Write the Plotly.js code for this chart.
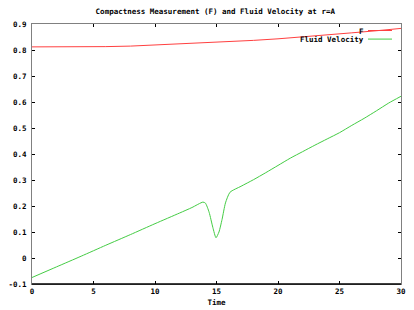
<!DOCTYPE html>
<html>
<head>
<meta charset="utf-8">
<script src="https://cdn.plot.ly/plotly-3.0.1.min.js"></script>
<style>html,body{margin:0;padding:0;background:#fff;}#chart{width:414px;height:310px;}</style>
</head>
<body>
<div id="chart"></div>
<script>
var seriesNames = ["F", "Fluid Velocity"];
var fTime = [0, 2, 4, 6, 8, 10, 12, 14, 16, 18, 20, 22, 24, 26, 28, 30];
var fValues = [0.812, 0.812, 0.812, 0.813, 0.815, 0.819, 0.823, 0.828, 0.832, 0.837, 0.843, 0.850, 0.858, 0.866, 0.874, 0.883];
var vTime = [0, 2, 4, 6, 8, 10, 12, 13, 13.9, 14.1, 14.4, 14.7, 14.96, 15.2, 15.45, 15.73, 16.1, 17, 18, 19, 20, 21, 22, 23, 24, 25, 26, 27, 28, 29, 30];
var vValues = [-0.075, -0.034, 0.007, 0.049, 0.090, 0.132, 0.173, 0.194, 0.215, 0.211, 0.176, 0.118, 0.078, 0.100, 0.148, 0.212, 0.253, 0.276, 0.301, 0.328, 0.356, 0.384, 0.409, 0.434, 0.458, 0.482, 0.510, 0.537, 0.566, 0.596, 0.622];
var xTicks = [0, 5, 10, 15, 20, 25, 30];
var yTicks = [-0.1, 0, 0.1, 0.2, 0.3, 0.4, 0.5, 0.6, 0.7, 0.8, 0.9];
var yTickText = ["-0.1", "0", "0.1", "0.2", "0.3", "0.4", "0.5", "0.6", "0.7", "0.8", "0.9"];

var fnt = {family: "DejaVu Sans Mono", size: 7.5, color: "#000", weight: "bold"};
var traces = [
  {x: fTime, y: fValues, name: seriesNames[0], mode: "lines", line: {color: "#ff4040", width: 1}},
  {x: vTime, y: vValues, name: seriesNames[1], mode: "lines", line: {color: "#44cc44", width: 1, shape: "spline", smoothing: 0.6}}
];
var layout = {
  width: 414, height: 310,
  margin: {l: 32, r: 13, t: 24, b: 26},
  paper_bgcolor: "#fff", plot_bgcolor: "#fff",
  showlegend: false,
  font: fnt,
  title: {text: "Compactness Measurement (F) and Fluid Velocity at r=A", font: fnt, x: 0.52, xanchor: "center", y: 0.962, yanchor: "middle"},
  xaxis: {range: [0, 30], tickvals: xTicks, ticks: "inside", ticklen: 3, tickcolor: "#000",
          showline: true, linecolor: "#808080", linewidth: 1, mirror: "ticks", showgrid: false, zeroline: false,
          tickfont: fnt, title: {text: "Time", font: fnt, standoff: 4}},
  yaxis: {range: [-0.1, 0.9], tickvals: yTicks, ticktext: yTickText, ticks: "inside", ticklen: 3, tickcolor: "#000",
          showline: true, linecolor: "#808080", linewidth: 1, mirror: "ticks", showgrid: false, zeroline: false,
          tickfont: fnt, ticklabelstandoff: 3},
  shapes: [
    {type: "line", xref: "paper", yref: "paper", x0: 0, x1: 1, y0: 0, y1: 0, line: {color: "#000", width: 1.5}},
    {type: "line", xref: "paper", yref: "paper", x0: 0.9106, x1: 0.9756, y0: 0.975, y1: 0.975, line: {color: "#ff4040", width: 1}},
    {type: "line", xref: "paper", yref: "paper", x0: 0.9106, x1: 0.9756, y0: 0.942, y1: 0.942, line: {color: "#44cc44", width: 1}}
  ],
  annotations: [
    {text: seriesNames[0], xref: "paper", yref: "paper", x: 0.905, y: 0.972, xanchor: "right", yanchor: "middle", showarrow: false, font: fnt},
    {text: seriesNames[1], xref: "paper", yref: "paper", x: 0.905, y: 0.940, xanchor: "right", yanchor: "middle", showarrow: false, font: fnt}
  ]
};
Plotly.newPlot("chart", traces, layout, {displayModeBar: false, staticPlot: true});
</script>
</body>
</html>
